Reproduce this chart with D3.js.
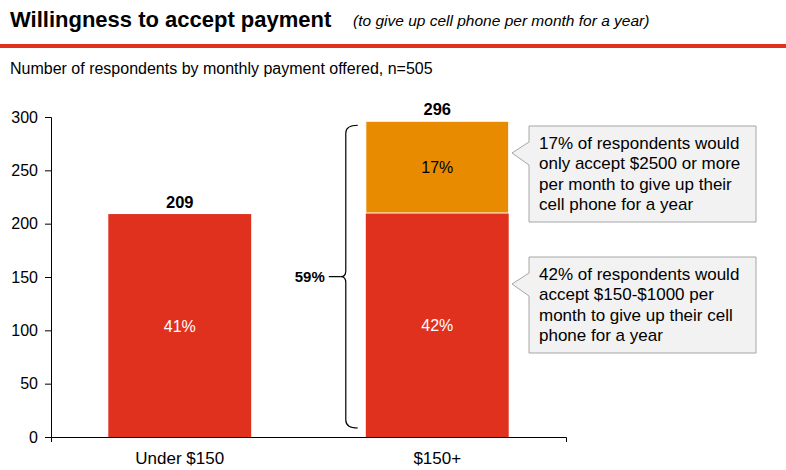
<!DOCTYPE html>
<html lang="en">
<head>
  <meta charset="UTF-8">
  <script src="https://d3js.org/d3.v7.min.js"></script>
  <style>
    body {
      margin: 0;
      padding: 0;
      background: #fff;
      font-family: "Liberation Sans", Arial, sans-serif;
    }
    svg text { fill: #000; }
  </style>
</head>
<body>
  <div id="chart"></div>

  <script>
    // data
    const categories = ["Under $150", "$150+"];
    const lowShare = [209, 210];   // bottom segment (under $150 / $150-$1000)
    const highShare = [0, 86];     // top segment ($2500+)
    const totals = [209, 296];
    const segLabels = [["41%", null], ["42%", "17%"]];
    const yTicks = [0, 50, 100, 150, 200, 250, 300];
    const braceLabel = "59%";
    const callouts = [
      ["17% of respondents would", "only accept $2500 or more", "per month to give up their", "cell phone for a year"],
      ["42% of respondents would", "accept $150-$1000 per", "month to give up their cell", "phone for a year"]
    ];

    const width = 786, height = 470;
    const red = "#E0311F", orange = "#E98B00";

    const svg = d3.select("#chart").append("svg")
      .attr("width", width)
      .attr("height", height);

    // header
    svg.append("text")
      .attr("x", 10).attr("y", 27)
      .style("font-size", "22px").style("font-weight", "bold")
      .text("Willingness to accept payment");
    svg.append("text")
      .attr("x", 353).attr("y", 26)
      .style("font-size", "15.5px").style("font-style", "italic")
      .text("(to give up cell phone per month for a year)");
    svg.append("rect")
      .attr("x", 0).attr("y", 44).attr("width", width).attr("height", 4)
      .attr("fill", red);
    svg.append("text")
      .attr("x", 10).attr("y", 74)
      .style("font-size", "16px")
      .text("Number of respondents by monthly payment offered, n=505");

    const x = d3.scaleBand()
      .domain(categories)
      .range([51, 566])
      .paddingInner(0.445)
      .paddingOuter(0.2225);

    const y = d3.scaleLinear()
      .domain([0, 300])
      .range([437, 117]);

    // axes
    const yAxis = svg.append("g")
      .attr("transform", "translate(51,0)")
      .call(d3.axisLeft(y).tickValues(yTicks).tickSize(6).tickPadding(7));
    yAxis.select(".domain").attr("stroke", "#000");
    yAxis.selectAll("text").style("font-size", "16px").style("font-family", "inherit");

    const xAxis = svg.append("g")
      .attr("transform", "translate(0,437)")
      .call(d3.axisBottom(x).tickSize(0).tickSizeOuter(5).tickPadding(15));
    xAxis.select(".domain").attr("stroke", "#000");
    xAxis.selectAll("text").style("font-size", "17px").style("font-family", "inherit");

    // bars
    const g = svg.append("g");
    categories.forEach((c, i) => {
      g.append("rect")
        .attr("x", x(c)).attr("width", x.bandwidth())
        .attr("y", y(lowShare[i])).attr("height", y(0) - y(lowShare[i]))
        .attr("fill", red);
      if (highShare[i] > 0) {
        g.append("rect")
          .attr("x", x(c)).attr("width", x.bandwidth())
          .attr("y", y(lowShare[i] + highShare[i]))
          .attr("height", y(lowShare[i]) - y(lowShare[i] + highShare[i]))
          .attr("fill", orange)
          .attr("stroke", "#fff").attr("stroke-width", 1);
      }
      const cx = x(c) + x.bandwidth() / 2;
      g.append("text")
        .attr("x", cx).attr("y", y((lowShare[i]) / 2) + 6)
        .attr("text-anchor", "middle")
        .style("font-size", "16px").style("fill", "#fff")
        .text(segLabels[i][0]);
      if (segLabels[i][1]) {
        g.append("text")
          .attr("x", cx).attr("y", y(lowShare[i] + highShare[i] / 2) + 6)
          .attr("text-anchor", "middle")
          .style("font-size", "16px")
          .text(segLabels[i][1]);
      }
      g.append("text")
        .attr("x", cx).attr("y", y(totals[i]) - 6)
        .attr("text-anchor", "middle")
        .style("font-size", "16.5px").style("font-weight", "bold")
        .text(totals[i]);
    });

    // brace next to the second bar
    const bTop = y(totals[1]) + 4, bBot = y(0) - 9, bMid = (bTop + bBot) / 2;
    const sx = x(categories[1]) - 20;
    const brace = d3.path();
    brace.moveTo(sx + 12, bTop);
    brace.quadraticCurveTo(sx, bTop, sx, bTop + 8);
    brace.lineTo(sx, bMid - 6);
    brace.quadraticCurveTo(sx, bMid, sx - 5, bMid);
    brace.quadraticCurveTo(sx, bMid, sx, bMid + 6);
    brace.lineTo(sx, bBot - 8);
    brace.quadraticCurveTo(sx, bBot, sx + 12, bBot);
    svg.append("path")
      .attr("d", brace.toString())
      .attr("fill", "none").attr("stroke", "#000").attr("stroke-width", 1.2);
    svg.append("line")
      .attr("x1", sx - 17).attr("x2", sx - 5)
      .attr("y1", bMid).attr("y2", bMid)
      .attr("stroke", "#000").attr("stroke-width", 1.2);
    svg.append("text")
      .attr("x", sx - 21).attr("y", bMid + 5)
      .attr("text-anchor", "end")
      .style("font-size", "15px").style("font-weight", "bold")
      .text(braceLabel);

    // callouts
    const boxes = [
      { top: 126, tip: 153 },
      { top: 257, tip: 284 }
    ];
    const bx = 529, bw = 227, bh = 96;
    boxes.forEach((b, i) => {
      const p = d3.path();
      p.moveTo(bx, b.top);
      p.lineTo(bx + bw, b.top);
      p.lineTo(bx + bw, b.top + bh);
      p.lineTo(bx, b.top + bh);
      p.lineTo(bx, b.tip + 12);
      p.lineTo(bx - 17, b.tip);
      p.lineTo(bx, b.tip - 11);
      p.closePath();
      svg.append("path")
        .attr("d", p.toString())
        .attr("fill", "#F2F2F2")
        .attr("stroke", "#A6A6A6").attr("stroke-width", 1);
      svg.append("text")
        .attr("x", bx + 10).attr("y", b.top + 23)
        .style("font-size", "17px")
        .selectAll("tspan")
        .data(callouts[i])
        .enter()
        .append("tspan")
        .attr("x", bx + 10)
        .attr("dy", (d, j) => j === 0 ? 0 : 20.3)
        .text(d => d);
    });
  </script>
</body>
</html>
